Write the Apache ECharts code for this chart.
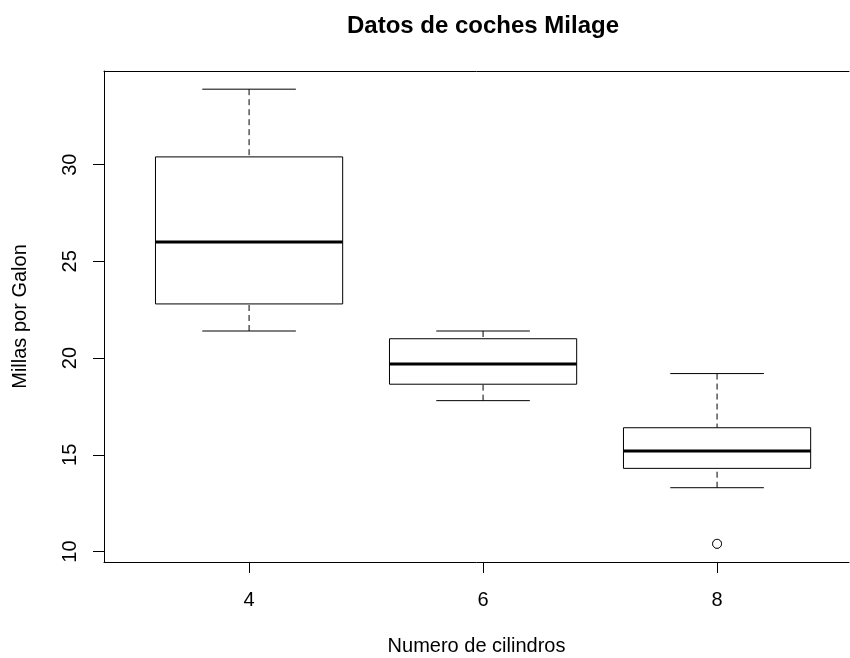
<!DOCTYPE html>
<html>
<head>
<meta charset="utf-8">
<script src="https://cdn.jsdelivr.net/npm/echarts@6/dist/echarts.min.js"></script>
<style>
html,body{margin:0;padding:0;background:#fff;}
#chart{width:850px;height:658px;}
</style>
</head>
<body>
<div id="chart"></div>
<script>
const categories = ['4', '6', '8'];
const whiskerLow = [21.4, 17.8, 13.3];
const lowerHinge = [22.8, 18.65, 14.3];
const medians = [26.0, 19.7, 15.2];
const upperHinge = [30.4, 21.0, 16.4];
const whiskerHigh = [33.9, 21.4, 19.2];
const outlierGroup = [3, 3];
const outlierValues = [10.4, 10.4];
const yTicks = [10, 15, 20, 25, 30];

const FONT = '"Liberation Sans", Arial, sans-serif';
const boxData = categories.map((c, i) => [i + 1, whiskerLow[i], lowerHinge[i], medians[i], upperHinge[i], whiskerHigh[i]]);
const outlierData = outlierGroup.map((g, i) => [g, outlierValues[i]]);

const chart = echarts.init(document.getElementById('chart'), null, {renderer: 'canvas'});

function renderBox(params, api) {
  const x = api.value(0);
  const lo = api.value(1), q1 = api.value(2), md = api.value(3), q3 = api.value(4), hi = api.value(5);
  const hw = 0.4, cw = 0.2;
  const pL1 = api.coord([x - hw, q1]);
  const pR3 = api.coord([x + hw, q3]);
  const pMedL = api.coord([x - hw, md]);
  const pMedR = api.coord([x + hw, md]);
  const pc = api.coord([x, md]);
  const pLo = api.coord([x, lo]);
  const pHi = api.coord([x, hi]);
  const pQ1 = api.coord([x, q1]);
  const pQ3 = api.coord([x, q3]);
  const capL = api.coord([x - cw, lo])[0];
  const capR = api.coord([x + cw, lo])[0];
  const lineStyle = {stroke: '#000', lineWidth: 1, fill: null};
  const dashStyle = {stroke: '#000', lineWidth: 1, lineDash: [6, 4], fill: null};
  return {
    type: 'group',
    children: [
      {type: 'line', shape: {x1: pc[0], y1: pHi[1], x2: pc[0], y2: pQ3[1]}, style: dashStyle},
      {type: 'line', shape: {x1: pc[0], y1: pLo[1], x2: pc[0], y2: pQ1[1]}, style: dashStyle},
      {type: 'line', shape: {x1: capL, y1: pHi[1], x2: capR, y2: pHi[1]}, style: lineStyle},
      {type: 'line', shape: {x1: capL, y1: pLo[1], x2: capR, y2: pLo[1]}, style: lineStyle},
      {type: 'rect', shape: {x: pL1[0], y: pR3[1], width: pR3[0] - pL1[0], height: pL1[1] - pR3[1]}, style: {stroke: '#000', lineWidth: 1, fill: '#fff'}},
      {type: 'line', shape: {x1: pMedL[0], y1: pMedL[1], x2: pMedR[0], y2: pMedR[1]}, style: {stroke: '#000', lineWidth: 3}}
    ]
  };
}

chart.setOption({
  animation: false,
  backgroundColor: '#fff',
  title: {
    text: 'Datos de coches Milage',
    left: 483, top: 14, padding: 0, textAlign: 'center',
    textStyle: {fontFamily: FONT, fontSize: 24, fontWeight: 'bold', color: '#000'}
  },
  grid: {left: 104, top: 71, right: 1, bottom: 96, show: false, containLabel: false, outerBoundsMode: 'none'},
  xAxis: [{
    type: 'value', min: 0.38, max: 3.5638, position: 'bottom',
    name: 'Numero de cilindros', nameLocation: 'middle', nameGap: 74,
    nameTextStyle: {fontFamily: FONT, fontSize: 20, color: '#000'},
    axisLine: {show: true, onZero: false, lineStyle: {color: '#000', width: 1}},
    splitLine: {show: false},
    axisTick: {show: true, length: 11, lineStyle: {color: '#000'}, customValues: [1, 2, 3]},
    axisLabel: {customValues: [1, 2, 3], formatter: v => categories[Math.round(v) - 1], fontFamily: FONT, fontSize: 20, color: '#000', margin: 28}
  }, {
    type: 'value', min: 0.38, max: 3.5638, position: 'top',
    axisLine: {show: true, onZero: false, lineStyle: {color: '#000', width: 1}},
    splitLine: {show: false}, axisTick: {show: false}, axisLabel: {show: false}
  }],
  yAxis: {
    type: 'value', min: 9.46, max: 34.84,
    name: 'Millas por Galon', nameLocation: 'middle', nameGap: 74, nameRotate: 90,
    nameTextStyle: {fontFamily: FONT, fontSize: 20, color: '#000'},
    axisLine: {show: true, onZero: false, lineStyle: {color: '#000', width: 1}},
    splitLine: {show: false},
    axisTick: {show: true, length: 11, lineStyle: {color: '#000'}, customValues: yTicks},
    axisLabel: {customValues: yTicks, rotate: 90, fontFamily: FONT, fontSize: 20, color: '#000', margin: 24}
  },
  series: [
    {type: 'custom', renderItem: renderBox, data: boxData, encode: {x: 0, y: [1, 2, 3, 4, 5]}, z: 3},
    {type: 'scatter', data: outlierData, symbol: 'circle', symbolSize: 9, itemStyle: {color: '#fff', borderColor: '#000', borderWidth: 1}, z: 4}
  ]
});
</script>
</body>
</html>
